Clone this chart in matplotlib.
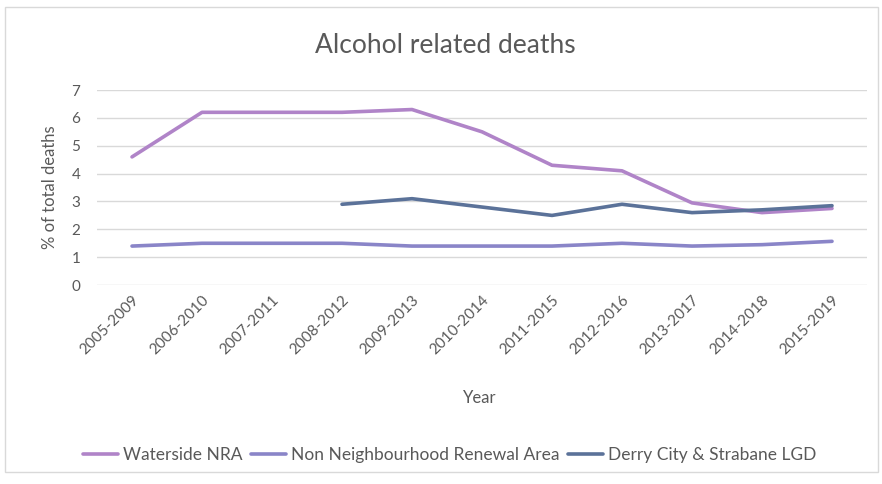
import matplotlib
matplotlib.use("Agg")
import matplotlib.pyplot as plt
import numpy as np

YEARS = ["2005-2009", "2006-2010", "2007-2011", "2008-2012", "2009-2013", "2010-2014",
         "2011-2015", "2012-2016", "2013-2017", "2014-2018", "2015-2019"]
WATERSIDE = [4.6, 6.2, 6.2, 6.2, 6.3, 5.5, 4.3, 4.1, 2.95, 2.6, 2.75]
NON_NRA = [1.4, 1.5, 1.5, 1.5, 1.4, 1.4, 1.4, 1.5, 1.4, 1.45, 1.57]
DERRY = [np.nan, np.nan, np.nan, 2.9, 3.1, 2.8, 2.5, 2.9, 2.6, 2.7, 2.85]

SERIES = [
    ("Waterside NRA", WATERSIDE, "#B084C8"),
    ("Non Neighbourhood Renewal Area", NON_NRA, "#8A85C8"),
    ("Derry City & Strabane LGD", DERRY, "#5B7299"),
]

plt.rcParams["font.family"] = ["Lato", "DejaVu Sans"]
TXT = "#595959"

fig = plt.figure(figsize=(8.82, 4.84), dpi=100)
ax = fig.add_axes([0.110, 0.411, 0.873, 0.403])

x = np.arange(len(YEARS))
for label, vals, color in SERIES:
    ax.plot(x, vals, color=color, linewidth=2.6, label=label, solid_capstyle="round", zorder=3)

ax.set_xlim(-0.5, len(YEARS) - 0.5)
ax.set_ylim(0, 7)
ax.set_yticks(range(0, 8))
ax.set_xticks(x)
ax.set_xticklabels(YEARS, rotation=45, ha="right", rotation_mode="anchor")
ax.tick_params(axis="both", length=0, labelsize=11, labelcolor=TXT)
ax.tick_params(axis="y", pad=12)
ax.tick_params(axis="x", pad=6)
ax.yaxis.grid(True, color="#D9D9D9", linewidth=1, zorder=0)
for s in ax.spines.values():
    s.set_visible(False)

fig.text(0.505, 0.907, "Alcohol related deaths", fontsize=19, color=TXT, ha="center", va="center")
ax.set_ylabel("% of total deaths", fontsize=12, color=TXT, labelpad=10)
fig.text(0.544, 0.178, "Year", fontsize=12, color=TXT, ha="center", va="center")

fig.legend(loc="center", bbox_to_anchor=(0.51, 0.06), ncol=3, frameon=False,
           fontsize=12.5, labelcolor=TXT, handlelength=2.0, handletextpad=0.3,
           columnspacing=0.5)

# chart frame
fig.patches.append(plt.Rectangle((0.006, 0.025), 0.99, 0.96, transform=fig.transFigure,
                                 fill=False, edgecolor="#D9D9D9", linewidth=1))

fig.savefig("out.png", dpi=100)
